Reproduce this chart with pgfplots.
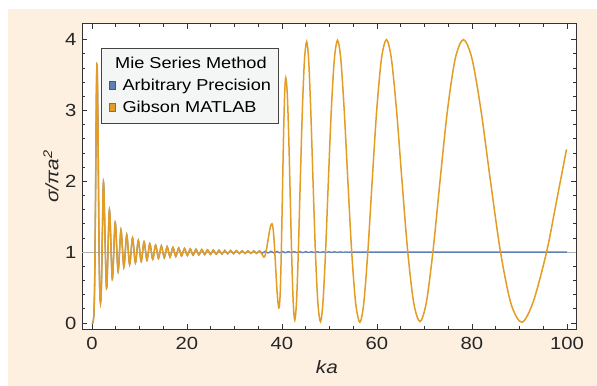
\documentclass[border=0pt]{standalone}
\usepackage{fontspec}
\setmainfont{Liberation Sans}[FakeStretch=1.15]
\usepackage{pgfplots}
\pgfplotsset{compat=1.18}
\definecolor{cream}{HTML}{FDF0E1}
\definecolor{mblue}{HTML}{5E81B5}
\definecolor{morange}{HTML}{E39C24}
\definecolor{framegray}{HTML}{333333}
\definecolor{legbg}{HTML}{F4F5F5}
\definecolor{leggray}{HTML}{444444}
\pgfplotsset{
  blueleg/.style={legend image code/.code={\fill[mblue, draw=mblue!70!black, line width=0.4bp] (0bp,-3.1bp) rectangle (6.7bp,4.6bp);}},
  orangeleg/.style={legend image code/.code={\fill[morange, draw=morange!70!black, line width=0.4bp] (0bp,-3.1bp) rectangle (6.7bp,4.6bp);}},
}
\begin{document}
\begin{tikzpicture}
\useasboundingbox (-82bp,-57bp) rectangle (515bp,329bp);
\fill[cream] (-74bp,-57bp) rectangle (515bp,320bp);
\begin{axis}[
  at={(0,0)}, anchor=south west,
  scale only axis, width=494bp, height=305bp,
  xmin=-2.1, xmax=101.9, ymin=-0.085, ymax=4.22,
  axis background/.style={fill=white},
  xtick={0,20,...,100}, ytick={0,1,2,3,4},
  minor x tick num=3, minor y tick num=4,
  tick pos=both, tick align=inside,
  major tick length=5bp, minor tick length=3bp,
  tick style={line width=0.8bp, color=framegray},
  axis line style={line width=1bp, color=framegray},
  /pgf/number format/assume math mode=true,
  tick label style={font=\fontsize{17.6bp}{20bp}\selectfont, text=black!85},
  yticklabel style={xshift=-2bp},
  xticklabel style={yshift=-4.4bp},
  xlabel={\itshape ka}, ylabel={\itshape σ/πa\textsuperscript{2}},
  every axis x label/.style={at={(axis description cs:0.4956,-0.1452)}, anchor=base, font=\fontsize{18bp}{21bp}\selectfont, text=black!85},
  every axis y label/.style={at={(axis description cs:-0.0627,0.5)}, rotate=90, anchor=center, font=\fontsize{18bp}{21bp}\selectfont, text=black!85},
  legend style={at={(rel axis cs:0.0379,0.922)}, anchor=north west, fill=legbg, draw=leggray, line width=0.9bp,
    font=\fontsize{15.8bp}{18bp}\selectfont, inner xsep=7.6bp, inner ysep=4.5bp, row sep=0pt,
    nodes={inner xsep=0pt, inner ysep=3.35bp, text height=12bp, text depth=3.5bp},
    /tikz/every odd column/.append style={column sep=6.7bp}},
  legend cell align=left,
]
\addlegendimage{empty legend}
\addlegendentry{\hspace{-7.4bp}Mie Series Method}
\addlegendimage{blueleg}
\addlegendentry{Arbitrary Precision}
\addlegendimage{orangeleg}
\addlegendentry{Gibson MATLAB}

\addplot[forget plot, black!30, line width=0.5bp] coordinates {(-2.1,1) (101.9,1)};

\addplot[forget plot, mblue, line width=1.3bp, smooth] coordinates {
(0,0) (0.2,0.005) (0.4,0.12) (0.55,0.5) (0.7,1.4) (0.85,2.6) (0.95,3.35) (1.05,3.65) (1.15,3.45) (1.3,2.5) (1.45,1.3) (1.6,0.55) (1.8,0.28) (2.0,0.55) (2.2,1.3)
(2.46,1.98) (3.0675,0.49) (3.675,1.60) (4.2825,0.62) (4.89,1.42) (5.4975,0.73) (6.105,1.31) (6.7125,0.79) (7.32,1.245) (7.9275,0.825) (8.535,1.20) (9.1425,0.85) (9.75,1.165) (10.3575,0.87) (10.965,1.145) (11.5725,0.885) (12.18,1.12) (12.7875,0.90) (13.395,1.10) (14.0025,0.912) (14.61,1.088) (15.2175,0.922) (15.825,1.077) (16.4325,0.931) (17.04,1.067) (17.6475,0.939) (18.255,1.059) (18.8625,0.946) (19.47,1.052) (20.0775,0.952) (20.685,1.046) (21.2925,0.957) (21.9,1.041) (22.5075,0.961) (23.115,1.037) (23.7225,0.965) (24.33,1.033) (24.9375,0.968) (25.545,1.030) (26.1525,0.971) (26.76,1.027) (27.3675,0.974) (27.975,1.025) (28.5825,0.976) (29.19,1.023) (29.7975,0.978) (30.405,1.021) (31.0125,0.980) (31.62,1.019) (32.2275,0.981) (32.835,1.018) (33.4425,0.982) (34.05,1.017) (34.6575,0.983) (35.265,1.017)
(35.8725,0.986) (36.48,1.013) (37.0875,0.988) (37.695,1.012) (38.3025,0.989) (38.91,1.011) (39.5175,0.99) (40.125,1.01) (40.7325,0.991) (41.34,1.009) (41.9475,0.992) (42.555,1.008) (43.1625,0.993) (43.77,1.007) (44.3775,0.993) (44.985,1.007) (45.5925,0.994) (46.2,1.006) (46.8075,0.994) (47.415,1.006) (48.0225,0.995) (48.63,1.005) (49.2375,0.995) (49.845,1.005) (50.4525,0.996) (51.06,1.004) (51.6675,0.996) (52.275,1.004) (52.8825,0.997) (53.49,1.003) (54.0975,0.997) (54.705,1.003) (55.3125,0.998) (55.92,1.002) (57,1.0) (100,1.0)
};

\addplot[forget plot, morange, line width=1.5bp, smooth] coordinates {
(0,0) (0.2,0.005) (0.4,0.12) (0.55,0.5) (0.7,1.4) (0.85,2.6) (0.95,3.35) (1.05,3.65) (1.15,3.45) (1.3,2.5) (1.45,1.3) (1.6,0.55) (1.8,0.28) (2.0,0.55) (2.2,1.3)
(2.46,1.98) (3.0675,0.49) (3.675,1.60) (4.2825,0.62) (4.89,1.42) (5.4975,0.73) (6.105,1.31) (6.7125,0.79) (7.32,1.245) (7.9275,0.825) (8.535,1.20) (9.1425,0.85) (9.75,1.165) (10.3575,0.87) (10.965,1.145) (11.5725,0.885) (12.18,1.12) (12.7875,0.90) (13.395,1.10) (14.0025,0.912) (14.61,1.088) (15.2175,0.922) (15.825,1.077) (16.4325,0.931) (17.04,1.067) (17.6475,0.939) (18.255,1.059) (18.8625,0.946) (19.47,1.052) (20.0775,0.952) (20.685,1.046) (21.2925,0.957) (21.9,1.041) (22.5075,0.961) (23.115,1.037) (23.7225,0.965) (24.33,1.033) (24.9375,0.968) (25.545,1.030) (26.1525,0.971) (26.76,1.027) (27.3675,0.974) (27.975,1.025) (28.5825,0.976) (29.19,1.023) (29.7975,0.978) (30.405,1.021) (31.0125,0.980) (31.62,1.019) (32.2275,0.981) (32.835,1.018) (33.4425,0.982) (34.05,1.017) (34.6575,0.983) (35.265,1.017)
(36.2,0.93) (36.483,0.962) (36.767,1.048) (37.05,1.165) (37.333,1.283) (37.617,1.369) (37.9,1.40)
(38.15,1.321) (38.4,1.104) (38.65,0.808) (38.9,0.511) (39.15,0.294) (39.4,0.215)
(39.633,0.432) (39.867,1.026) (40.1,1.838) (40.333,2.649) (40.567,3.243) (40.8,3.46)
(41.117,3.231) (41.433,2.605) (41.75,1.75) (42.067,0.895) (42.383,0.269) (42.7,0.04)
(43.065,0.303) (43.45,1.023) (43.856,2.005) (44.283,2.988) (44.731,3.707) (45.2,3.97)
(45.623,3.705) (46.07,2.983) (46.541,1.995) (47.037,1.008) (47.556,0.285) (48.1,0.02)
(48.625,0.286) (49.18,1.013) (49.765,2.005) (50.38,2.998) (51.025,3.724) (51.7,3.99)
(52.385,3.723) (53.11,2.995) (53.874,2.0) (54.677,1.005) (55.519,0.277) (56.4,0.01)
(57.216,0.277) (58.08,1.008) (58.99,2.005) (59.946,3.003) (60.95,3.733) (62.0,4.0)
(63.028,3.733) (64.115,3.005) (65.261,2.01) (66.465,1.015) (67.728,0.287) (69.05,0.02)
(70.384,0.287) (71.795,1.015) (73.282,2.01) (74.845,3.005) (76.484,3.733) (78.2,4.0)
(79.993,3.733) (81.89,3.003) (83.889,2.005) (85.99,1.008) (88.194,0.277) (90.5,0.01)
(92.9,0.30) (95.7,1.0) (97.8,1.72) (99.9,2.45)
};
\end{axis}
\end{tikzpicture}
\end{document}
